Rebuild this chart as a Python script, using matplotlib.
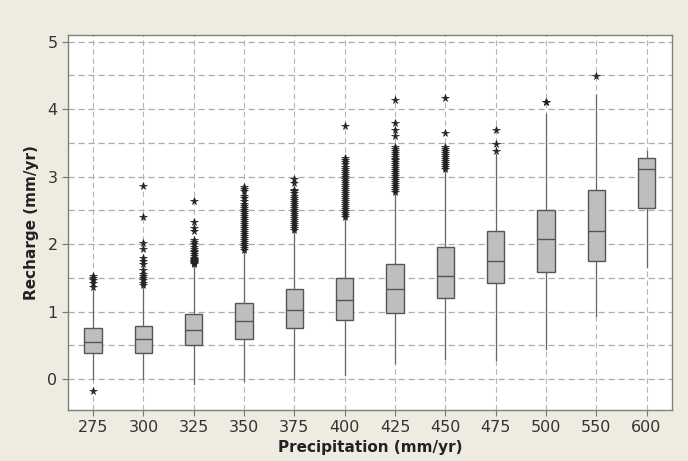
import matplotlib
matplotlib.use("Agg")
import matplotlib.pyplot as plt
from matplotlib.ticker import MultipleLocator

categories = ["275", "300", "325", "350", "375", "400", "425", "450", "475", "500", "550", "600"]
q1 = [0.38, 0.39, 0.51, 0.60, 0.75, 0.88, 0.98, 1.20, 1.42, 1.59, 1.75, 2.53]
median = [0.55, 0.59, 0.73, 0.86, 1.03, 1.17, 1.33, 1.53, 1.75, 2.07, 2.19, 3.11]
q3 = [0.75, 0.785, 0.97, 1.12, 1.34, 1.49, 1.71, 1.96, 2.19, 2.50, 2.80, 3.28]
whisker_low = [0.0, 0.0, -0.07, -0.03, 0.0, 0.06, 0.23, 0.29, 0.28, 0.45, 0.93, 1.66]
whisker_high = [1.33, 1.37, 1.68, 1.89, 2.19, 2.38, 2.75, 3.08, 3.33, 3.93, 4.21, 3.38]
outliers = [
    [-0.18, 1.36, 1.42, 1.47, 1.50, 1.52],
    [1.39, 1.43, 1.47, 1.50, 1.53, 1.56, 1.61, 1.71, 1.75, 1.79, 1.92, 2.01, 2.40, 2.86],
    [1.70, 1.72, 1.73, 1.74, 1.75, 1.76, 1.77, 1.78, 1.80, 1.83, 1.86, 1.88, 1.90,
     1.93, 1.96, 2.00, 2.03, 2.06, 2.20, 2.24, 2.33, 2.64],
    [1.91, 1.94, 1.97, 2.00, 2.03, 2.06, 2.09, 2.12, 2.15, 2.18, 2.21, 2.24, 2.27,
     2.30, 2.33, 2.36, 2.39, 2.42, 2.45, 2.48, 2.51, 2.54, 2.57, 2.60, 2.64, 2.68,
     2.71, 2.78, 2.81, 2.85],
    [2.21, 2.24, 2.27, 2.30, 2.33, 2.36, 2.39, 2.42, 2.45, 2.48, 2.51, 2.54, 2.57,
     2.60, 2.63, 2.66, 2.69, 2.72, 2.75, 2.78, 2.80, 2.90, 2.96],
    [2.40, 2.43, 2.46, 2.49, 2.52, 2.55, 2.58, 2.61, 2.64, 2.67, 2.70, 2.73, 2.76,
     2.79, 2.82, 2.85, 2.88, 2.91, 2.94, 2.97, 3.00, 3.03, 3.06, 3.09, 3.12, 3.15,
     3.18, 3.21, 3.24, 3.28, 3.75],
    [2.77, 2.80, 2.83, 2.86, 2.89, 2.92, 2.95, 2.98, 3.01, 3.04, 3.07, 3.10, 3.13,
     3.16, 3.19, 3.22, 3.24, 3.26, 3.29, 3.32, 3.35, 3.38, 3.41, 3.44, 3.60, 3.69,
     3.79, 4.14],
    [3.11, 3.14, 3.17, 3.20, 3.23, 3.26, 3.29, 3.32, 3.35, 3.38, 3.41, 3.44, 3.65, 4.16],
    [3.38, 3.48, 3.69],
    [4.10, 4.11],
    [4.49],
    [],
]

box_face = "#BEBEBE"
edge = "#555555"

fig = plt.figure(figsize=(6.88, 4.61), dpi=100)
fig.patch.set_facecolor("#EEEBE1")
ax = fig.add_axes([68 / 688, 51 / 461, (671.7 - 68) / 688, (410 - 35) / 461])
ax.set_facecolor("white")

stats = []
for i, name in enumerate(categories):
    stats.append(dict(label=name, q1=q1[i], med=median[i], q3=q3[i],
                      whislo=whisker_low[i], whishi=whisker_high[i],
                      fliers=outliers[i]))

positions = list(range(len(categories)))
ax.bxp(stats, positions=positions, widths=0.345, patch_artist=True,
       showcaps=False,
       boxprops=dict(facecolor=box_face, edgecolor=edge, linewidth=1.0),
       medianprops=dict(color=edge, linewidth=1.0),
       whiskerprops=dict(color="#666666", linewidth=0.9),
       flierprops=dict(marker="*", markersize=5.5, markerfacecolor="#222222",
                       markeredgecolor="#222222", markeredgewidth=0.5,
                       linestyle="none"))

ax.set_xlim(-0.5, 11.5)
ax.set_ylim(-0.46, 5.1)
ax.set_xticks(positions)
ax.set_xticklabels(categories)
ax.yaxis.set_major_locator(MultipleLocator(1))
ax.yaxis.set_minor_locator(MultipleLocator(0.5))

ax.set_axisbelow(True)
ax.grid(True, axis="y", which="both", linestyle=(0, (5, 3)), color="#ABABAB", linewidth=0.9)
ax.grid(True, axis="x", which="major", linestyle=(0, (5, 3)), color="#B5B5B5", linewidth=0.8)
ax.tick_params(axis="y", which="minor", length=0)
ax.tick_params(axis="both", which="major", length=4, color="#777777",
               labelsize=11.5, labelcolor="#333333")

for s in ax.spines.values():
    s.set_color("#808080")
    s.set_linewidth(1.0)

ax.set_xlabel("Precipitation (mm/yr)", fontsize=11, fontweight="bold", color="#222222", labelpad=3)
ax.set_ylabel("Recharge (mm/yr)", fontsize=11, fontweight="bold", color="#222222", labelpad=6)

fig.savefig("out.png", dpi=100, facecolor=fig.get_facecolor())
